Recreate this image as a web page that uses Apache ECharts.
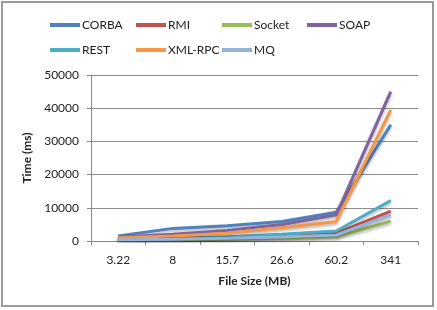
<!DOCTYPE html>
<html>
<head>
    <meta charset="utf-8">
    <title>File transfer time</title>
    <script src="https://cdn.jsdelivr.net/npm/echarts@6/dist/echarts.min.js"></script>
    <style>
        html, body { margin: 0; padding: 0; background: #fff; }
    </style>
</head>
<body>
<div id="main" style="width: 437px; height: 310px;"></div>
<script type="text/javascript">
    // file sizes (MB)
    var categories = ['3.22', '8', '15.7', '26.6', '60.2', '341'];
    var seriesNames = ['CORBA', 'RMI', 'Socket', 'SOAP', 'REST', 'XML-RPC', 'MQ'];
    var corba  = [1500, 3800, 4600, 5900, 8700, 35000];
    var rmi    = [800, 900, 1200, 1600, 2300, 9000];
    var socket = [300, 400, 600, 800, 1300, 6000];
    var soap   = [1200, 2000, 3200, 5000, 7900, 45000];
    var rest   = [600, 700, 1200, 2000, 3000, 12200];
    var xmlrpc = [1000, 1500, 2300, 4000, 5900, 39500];
    var mq     = [400, 500, 800, 1200, 1800, 7900];
    var colors = ['#4F81BD', '#C0504D', '#9BBB59', '#8064A2', '#4BACC6', '#F79646', '#95B3D7'];

    var values = [corba, rmi, socket, soap, rest, xmlrpc, mq];
    var font = 'Lato, "Open Sans", sans-serif';

    var myChart = echarts.init(document.getElementById('main'));

    // legend laid out in columns like the original
    var legendCols = [['CORBA', 'REST'], ['RMI', 'XML-RPC'], ['Socket', 'MQ'], ['SOAP']];
    var legendLeft = [50, 136, 222, 307];
    var legends = legendCols.map(function (col, i) {
        return {
            data: col,
            orient: 'vertical',
            left: legendLeft[i],
            top: 19,
            itemGap: 13,
            itemWidth: 30,
            itemHeight: 4,
            icon: 'rect',
            padding: 0,
            textStyle: { fontFamily: font, fontSize: 12, color: '#222', padding: [0, 0, 0, -3] }
        };
    });

    var option = {
        animation: false,
        color: colors,
        legend: legends,
        graphic: [{
            type: 'rect',
            shape: { x: 2, y: 2, width: 431, height: 304 },
            style: { fill: 'none', stroke: '#9a9a9a', lineWidth: 2 },
            silent: true
        }],
        grid: { left: 91, right: 19, top: 75, bottom: 69 },
        xAxis: {
            type: 'category',
            data: categories,
            boundaryGap: true,
            name: 'File Size (MB)',
            nameLocation: 'middle',
            nameGap: 34,
            nameTextStyle: { fontFamily: font, fontSize: 12, fontWeight: 'bold', color: '#222' },
            axisLine: { lineStyle: { color: '#888' } },
            axisTick: { show: true, alignWithLabel: false, length: 4, lineStyle: { color: '#888' } },
            axisLabel: { fontFamily: font, fontSize: 12, color: '#222', margin: 13 }
        },
        yAxis: {
            type: 'value',
            min: 0,
            max: 50000,
            interval: 10000,
            name: 'Time (ms)',
            nameLocation: 'middle',
            nameGap: 49,
            nameTextStyle: { fontFamily: font, fontSize: 12, fontWeight: 'bold', color: '#222' },
            axisLine: { show: true, lineStyle: { color: '#888' } },
            axisTick: { show: true, length: 4, lineStyle: { color: '#888' } },
            axisLabel: {
                fontFamily: font, fontSize: 12, color: '#222', margin: 12,
                formatter: function (v) { return String(v); }
            },
            splitLine: { lineStyle: { color: '#8c8c8c', width: 1 } }
        },
        series: seriesNames.map(function (name, i) {
            return {
                name: name,
                type: 'line',
                data: values[i],
                showSymbol: false,
                symbol: 'none',
                lineStyle: {
                    width: 3,
                    shadowColor: 'rgba(0,0,0,0.3)',
                    shadowBlur: 3,
                    shadowOffsetY: 2
                }
            };
        })
    };

    myChart.setOption(option);
</script>
</body>
</html>
